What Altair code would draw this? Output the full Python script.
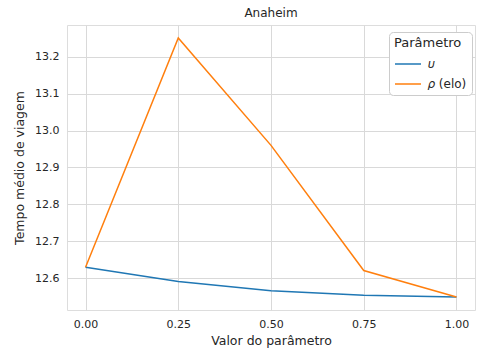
import altair as alt
import pandas as pd

x_vals = [0.0, 0.25, 0.5, 0.75, 1.0]
upsilon_vals = [12.630, 12.591, 12.566, 12.554, 12.549]
rho_vals = [12.630, 13.251, 12.960, 12.621, 12.549]
series_names = ["\U0001D710", "\U0001D70C (elo)"]
colors = ["#1f77b4", "#ff7f0e"]
x_ticks = [0.0, 0.25, 0.5, 0.75, 1.0]
y_ticks = [12.6, 12.7, 12.8, 12.9, 13.0, 13.1, 13.2]

rows = []
for name, vals in zip(series_names, [upsilon_vals, rho_vals]):
    for xv, yv in zip(x_vals, vals):
        rows.append({"x": xv, "y": yv, "Parâmetro": name})
df = pd.DataFrame(rows)

FONT = "DejaVu Sans"
TXT = "#262626"

axis_style = dict(grid=True, gridColor="#d9d9d9", gridWidth=1, domain=False, ticks=False,
                  labelFont=FONT, titleFont=FONT, labelFontSize=11, titleFontSize=12.5,
                  labelColor=TXT, titleColor=TXT, titleFontWeight="normal",
                  labelFontWeight="normal")

chart = alt.Chart(df).mark_line(strokeWidth=1.5).encode(
    x=alt.X("x:Q", title="Valor do parâmetro",
            scale=alt.Scale(domain=[-0.05, 1.05], nice=False, zero=False),
            axis=alt.Axis(values=x_ticks, format=".2f", labelPadding=8, titlePadding=5,
                          **axis_style)),
    y=alt.Y("y:Q", title="Tempo médio de viagem",
            scale=alt.Scale(domain=[12.514, 13.286], nice=False, zero=False),
            axis=alt.Axis(values=y_ticks, format=".1f", labelPadding=8, titlePadding=8,
                          **axis_style)),
    color=alt.Color("Parâmetro:N",
                    scale=alt.Scale(domain=series_names, range=colors),
                    legend=alt.Legend(orient="none", legendX=322, legendY=7,
                                      symbolType="stroke", symbolSize=676,
                                      symbolStrokeWidth=1.5, padding=5,
                                      cornerRadius=4, strokeColor="#cccccc",
                                      fillColor="white", titleFontSize=13,
                                      labelFontSize=12, titleFontWeight="normal",
                                      titleColor=TXT, labelColor=TXT,
                                      titleFont=FONT, labelFont=FONT,
                                      rowPadding=-8, titlePadding=0, labelOffset=6)),
    order="x:Q",
).properties(
    width=408, height=285,
    title=alt.TitleParams("Anaheim", fontSize=12, font=FONT, color=TXT,
                          fontWeight="normal", offset=5),
    autosize=alt.AutoSizeParams(type="none"),
    padding={"left": 67, "top": 25, "right": 2, "bottom": 41},
).configure_view(
    stroke="#cccccc", strokeWidth=1,
).configure(background="white")

chart.save("out.html", embed_options={"renderer": "svg", "actions": False})
